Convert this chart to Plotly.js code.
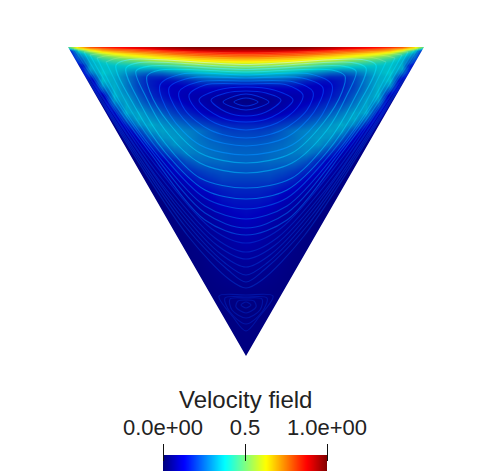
<!DOCTYPE html>
<html>
<head>
    <script src="https://cdn.plot.ly/plotly-3.0.1.min.js"></script>
    <style>
        html, body { margin: 0; padding: 0; background: #fff; }
        /* streamlines only lighten the field under them */
        .scatterlayer { mix-blend-mode: screen; }
    </style>
</head>
<body>
    <div id="plot" style="width:492px;height:475px;"></div>
    <script>
        // Axes are in picture units, x from 0 to 492, y from 0 down to 475
        const triangleX = [68, 424, 246];
        const triangleY = [47, 47, 356];

        // Speed, left half of the cavity (mirrored below)
        const fieldCols = [246, 234, 222, 210, 198, 186, 174, 162, 150, 138, 126, 114, 102, 90, 78, 66];
        const fieldRows = [47, 50, 53, 56, 59, 62, 65, 68, 72, 76, 80, 85, 90, 95, 100, 106, 112, 118, 124, 130, 137, 144, 152, 160, 170, 180, 190, 200, 215, 230, 245, 260, 275, 290, 305, 320, 356];
        const fieldHalf = [
            [1, 1, 1, 1, 1, .99, .97, .95, .92, .90, .88, .86, .83, .78, .65, .40],
            [.93, .93, .93, .92, .91, .89, .87, .85, .82, .80, .77, .74, .69, .58, .40, 0],
            [.84, .84, .84, .83, .82, .80, .78, .75, .72, .69, .66, .62, .56, .45, .30, 0],
            [.76, .76, .75, .74, .73, .71, .68, .66, .63, .60, .57, .53, .48, .38, .25, 0],
            [.68, .68, .67, .66, .65, .63, .60, .58, .55, .52, .49, .46, .42, .35, .20, 0],
            [.60, .60, .59, .58, .57, .55, .52, .50, .48, .45, .43, .41, .38, .34, .15, 0],
            [.53, .53, .52, .51, .50, .48, .45, .43, .41, .39, .38, .37, .37, .34, .02, 0],
            [.47, .47, .46, .45, .43, .41, .38, .36, .34, .34, .35, .36, .37, .33, 0, 0],
            [.39, .39, .38, .37, .35, .32, .29, .26, .25, .27, .31, .35, .38, .26, 0, 0],
            [.30, .30, .30, .29, .27, .24, .21, .18, .18, .22, .28, .34, .36, .16, 0, 0],
            [.22, .22, .22, .22, .20, .17, .15, .14, .16, .21, .28, .34, .36, .05, 0, 0],
            [.14, .14, .15, .15, .15, .13, .12, .13, .16, .21, .28, .35, .30, .01, 0, 0],
            [.08, .09, .10, .11, .11, .11, .12, .14, .17, .22, .29, .35, .20, 0, 0, 0],
            [.04, .05, .06, .08, .09, .10, .12, .15, .18, .24, .31, .35, .08, 0, 0, 0],
            [.01, .02, .04, .07, .09, .11, .14, .17, .20, .26, .33, .31, .04, 0, 0, 0],
            [.03, .04, .06, .08, .11, .14, .17, .20, .24, .29, .34, .22, .01, 0, 0, 0],
            [.08, .08, .09, .11, .14, .17, .20, .24, .28, .33, .33, .13, 0, 0, 0, 0],
            [.13, .13, .14, .16, .18, .21, .24, .28, .31, .34, .25, .06, 0, 0, 0, 0],
            [.17, .17, .18, .20, .22, .25, .28, .31, .34, .29, .16, .02, 0, 0, 0, 0],
            [.20, .20, .21, .24, .27, .29, .31, .33, .31, .20, .09, 0, 0, 0, 0, 0],
            [.22, .22, .23, .25, .27, .30, .32, .31, .24, .13, .04, 0, 0, 0, 0, 0],
            [.24, .24, .25, .26, .28, .30, .31, .26, .17, .08, .01, 0, 0, 0, 0, 0],
            [.25, .25, .26, .27, .28, .29, .25, .18, .10, .04, 0, 0, 0, 0, 0, 0],
            [.25, .25, .26, .26, .26, .23, .17, .11, .06, .01, 0, 0, 0, 0, 0, 0],
            [.23, .23, .23, .22, .20, .17, .13, .08, .03, 0, 0, 0, 0, 0, 0, 0],
            [.20, .20, .20, .18, .16, .12, .08, .04, .01, 0, 0, 0, 0, 0, 0, 0],
            [.17, .17, .16, .14, .12, .08, .05, .02, 0, 0, 0, 0, 0, 0, 0, 0],
            [.15, .15, .14, .11, .08, .05, .02, 0, 0, 0, 0, 0, 0, 0, 0, 0],
            [.13, .12, .10, .07, .05, .02, .005, 0, 0, 0, 0, 0, 0, 0, 0, 0],
            [.10, .09, .07, .05, .03, .01, 0, 0, 0, 0, 0, 0, 0, 0, 0, 0],
            [.08, .07, .05, .03, .015, 0, 0, 0, 0, 0, 0, 0, 0, 0, 0, 0],
            [.055, .05, .035, .02, .005, 0, 0, 0, 0, 0, 0, 0, 0, 0, 0, 0],
            [.035, .03, .02, .01, 0, 0, 0, 0, 0, 0, 0, 0, 0, 0, 0, 0],
            [.015, .012, .008, .003, 0, 0, 0, 0, 0, 0, 0, 0, 0, 0, 0, 0],
            [0, .003, .005, 0, 0, 0, 0, 0, 0, 0, 0, 0, 0, 0, 0, 0],
            [.01, .005, 0, 0, 0, 0, 0, 0, 0, 0, 0, 0, 0, 0, 0, 0],
            [0, 0, 0, 0, 0, 0, 0, 0, 0, 0, 0, 0, 0, 0, 0, 0]
        ];

        // Streamlines, left half from the bottom crossing round towards the top
        const streamX = [
            [246, 240, 234, 240, 246],
            [246, 235, 223, 235, 246],
            [246, 226, 211, 226, 246],
            [246, 220, 199, 218, 246],
            [246, 215, 195, 189, 205, 246],
            [246, 210, 185, 179, 198, 246],
            [246, 205, 178, 169, 190, 246],
            [246, 200, 170, 160, 182, 246],
            [246, 200, 168, 150, 147, 160, 246],
            [246, 200, 165, 145, 136, 150, 246],
            [246, 200, 165, 140, 126, 140, 246],
            [246, 205, 165, 135, 116, 130, 246],
            [246, 205, 160, 130, 106],
            [246, 205, 155, 123, 97],
            [246, 205, 150, 118, 90],
            [246, 205, 148, 113, 84],
            [246, 212, 150, 108, 78],
            [246, 215, 155, 105, 74],
            [246, 218, 165, 106, 72],
            [246, 222, 178, 104, 71],
            [246, 225, 180, 102, 70],
            [246, 228, 185, 101, 70],
            [246, 230, 188, 100, 69],
            [246, 241, 246],
            [246, 236, 238, 246],
            [246, 232, 230, 246],
            [246, 230, 225, 246],
            [246, 233, 219, 246]
        ];
        const streamY = [
            [106, 105, 102, 99, 98],
            [110, 108, 102, 96, 94],
            [116, 112, 100, 93, 91],
            [122, 117, 100, 90, 87],
            [130, 123, 108, 95, 85, 84],
            [138, 130, 110, 92, 82, 81],
            [146, 137, 112, 88, 78, 78],
            [155, 145, 115, 85, 74, 75],
            [163, 153, 122, 92, 76, 70, 72],
            [173, 163, 130, 95, 71, 66, 69.5],
            [188, 178, 143, 103, 68, 62.5, 67],
            [199, 190, 152, 107, 65, 59.5, 64.5],
            [209, 198, 152, 109, 62],
            [219, 206, 152, 107, 58],
            [228, 213, 149, 103, 55],
            [235, 220, 150, 101, 52],
            [243, 229, 158, 98, 50],
            [252, 238, 170, 96, 49],
            [259, 246, 188, 102, 49],
            [267, 255, 208, 100, 49],
            [275, 263, 215, 100, 48.5],
            [282, 270, 226, 100, 48.5],
            [288, 280, 236, 100, 48],
            [308, 305, 302],
            [313, 307, 301, 300],
            [318, 310, 299, 298],
            [324, 312, 298, 297],
            [331, 317, 296, 295]
        ];

        // Return branches of the outer streamlines, running under the lid
        const lidX = [
            [106, 120, 246],
            [97, 112, 246],
            [90, 105, 246],
            [84, 100, 246],
            [78, 100, 246],
            [74, 100, 246]
        ];
        const lidY = [
            [62, 57.5, 62],
            [58, 55, 60],
            [55, 53, 58],
            [52, 51, 56],
            [50, 49.5, 54.5],
            [49, 48.5, 53]
        ];

        const rampValues = [0, .05, .1, .15, .2, .25, .3, .35, .4, .45, .5, .55, .6, .65, .7, .75, .8, .85, .9, .95, 1];
        const tickValues = [0, .5, 1];
        const tickLabels = ['0.0e+00', '0.5', '1.0e+00'];

        const jet = [
            [0, '#00007f'], [.125, '#0000ff'], [.375, '#00ffff'],
            [.625, '#ffff00'], [.875, '#ff0000'], [1, '#7f0000']
        ];
        // The shaded surface is duller than the ramp in its blue and teal part
        const shadedJet = [
            [0, '#00007f'], [.125, '#0000be'], [.375, '#00c3c8'], [.5, '#6ee16e'],
            [.625, '#fafa00'], [.875, '#ff0000'], [1, '#7f0000']
        ];

        const mirror = x => 492 - x;
        const fullCols = fieldCols.slice().reverse().concat(fieldCols.slice(1).map(mirror));
        const fullField = fieldHalf.map(row => row.slice().reverse().concat(row.slice(1)));

        const data = [{
            type: 'heatmap',
            x: fullCols,
            y: fieldRows,
            z: fullField,
            zmin: 0,
            zmax: 1,
            zsmooth: 'best',
            colorscale: shadedJet,
            showscale: false,
            hoverinfo: 'skip'
        }];

        // Each half is mirrored about the middle of the lid
        const addLine = (xs, ys, color) => {
            data.push({
                type: 'scatter',
                mode: 'lines',
                x: xs.slice().reverse().map(mirror).concat(xs.slice(1)),
                y: ys.slice().reverse().concat(ys.slice(1)),
                line: {color: color, width: 1.1, shape: 'spline', smoothing: 0.9},
                showlegend: false,
                hoverinfo: 'skip'
            });
        };
        const streamColor = i => {
            if (i < 8) return 'rgb(0,45,170)';
            if (i < 12) return 'rgb(0,90,140)';
            if (i < 16) return 'rgb(0,60,120)';
            if (i < 23) return 'rgb(0,30,80)';
            return 'rgb(0,20,70)';
        };
        streamX.forEach((xs, i) => addLine(xs, streamY[i], streamColor(i)));
        lidX.forEach((xs, i) => addLine(xs.slice().reverse(), lidY[i].slice().reverse(), 'rgb(45,45,20)'));

        // Colour ramp under the labels
        data.push({
            type: 'heatmap',
            x: rampValues,
            y: [0, 1],
            z: [rampValues, rampValues],
            xaxis: 'x2',
            yaxis: 'y2',
            zmin: 0,
            zmax: 1,
            zsmooth: 'best',
            colorscale: jet,
            showscale: false,
            hoverinfo: 'skip'
        });

        const maskPath = 'M50,35H442V380H50Z M' +
            triangleX.map((x, i) => x + ',' + triangleY[i]).join(' L') + ' Z';

        const layout = {
            width: 492,
            height: 475,
            margin: {l: 0, r: 0, t: 0, b: 0},
            paper_bgcolor: '#ffffff',
            plot_bgcolor: 'rgba(0,0,0,0)',
            showlegend: false,
            font: {family: 'Liberation Sans, Arial, sans-serif', color: '#222222'},
            xaxis: {range: [0, 492], domain: [0, 1], visible: false, fixedrange: true},
            yaxis: {range: [475, 0], domain: [0, 1], visible: false, fixedrange: true},
            xaxis2: {
                domain: [163 / 492, 327 / 492],
                range: [0, 1],
                anchor: 'free',
                position: 14 / 475,
                side: 'top',
                tickmode: 'array',
                tickvals: tickValues,
                ticktext: tickLabels,
                ticks: 'outside',
                ticklen: 17,
                tickwidth: 1,
                tickcolor: '#111111',
                tickfont: {size: 22, color: '#222222'},
                showgrid: false,
                zeroline: false,
                showline: false,
                fixedrange: true
            },
            yaxis2: {
                domain: [4 / 475, 20 / 475],
                range: [0, 1],
                anchor: 'x2',
                visible: false,
                fixedrange: true
            },
            shapes: [{
                type: 'path',
                path: maskPath,
                xref: 'x',
                yref: 'y',
                fillcolor: '#ffffff',
                fillrule: 'evenodd',
                line: {width: 0},
                layer: 'above'
            }],
            annotations: [{
                text: 'Velocity field',
                xref: 'paper',
                yref: 'paper',
                x: 245 / 492,
                y: 1 - 399 / 475,
                xanchor: 'center',
                yanchor: 'middle',
                showarrow: false,
                font: {size: 24, color: '#222222'}
            }]
        };

        Plotly.newPlot('plot', data, layout, {displayModeBar: false, staticPlot: true});
    </script>
</body>
</html>
